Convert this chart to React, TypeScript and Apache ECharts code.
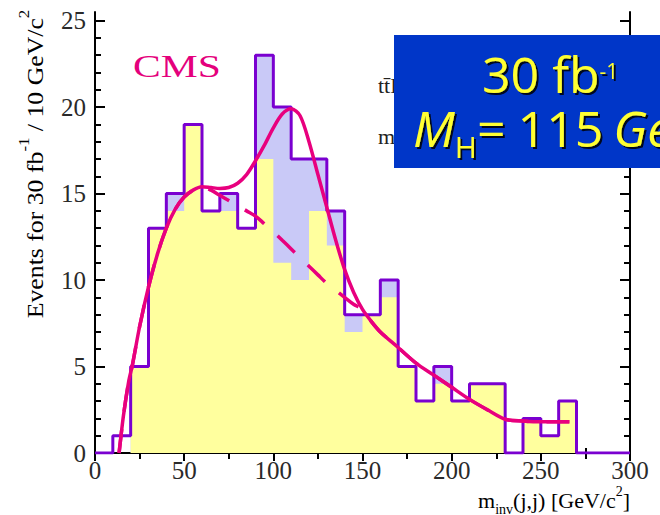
import React, { useEffect, useRef } from "react";
import * as echarts from "echarts";

// Histogram bins (lower edges, GeV/c^2), width 10
const binLow = [0, 10, 20, 30, 40, 50, 60, 70, 80, 90, 100, 110, 120, 130, 140, 150, 160, 170, 180, 190, 200, 210, 220, 230, 240, 250, 260, 270, 280, 290];
const binTop = 300;
// pseudo-data total (purple outline)
const totalCounts = [0, 1, 5, 13, 15, 19, 14, 15, 13, 23, 20, 17, 17, 14, 8, 8, 10, 5, 3, 5, 3, 4, 4, 0, 2, 1, 3, 0, 0, 0];
// signal + background (lavender)
const sigBgCounts = [0, 0, 5, 13, 15, 19, 14, 15, 13, 23, 20, 17, 17, 14, 8, 8, 10, 5, 3, 5, 3, 4, 4, 0, 2, 1, 3, 0, 0, 0];
// background only (yellow)
const bgCounts = [0, 0, 5, 13, 14, 19, 14, 14, 13, 17, 11, 10, 14, 12, 7, 8, 9, 5, 3, 4, 3, 4, 4, 0, 2, 1, 3, 0, 0, 0];

// Fit: signal + background (solid)
const fitX = [13.5, 16, 19, 21, 25, 30, 35, 40, 45, 50, 55, 60, 65, 70, 75, 80, 85, 90, 95, 100, 105, 110, 115, 120, 125, 130, 135, 140, 145, 150, 155, 160, 170, 180, 190, 200, 210, 220, 230, 240, 250, 260, 266];
const fitY = [0, 2.2, 4.2, 5.1, 7.3, 9.6, 11.5, 13.0, 14.1, 14.8, 15.2, 15.4, 15.35, 15.3, 15.35, 15.6, 16.1, 16.9, 17.8, 18.8, 19.6, 19.9, 19.5, 18.0, 16.1, 14.2, 12.3, 10.6, 9.3, 8.3, 7.6, 7.0, 6.1, 5.2, 4.5, 3.8, 3.1, 2.5, 1.95, 1.85, 1.8, 1.8, 1.8];
// Fit: background only (dashed)
const bgFitX = [13.5, 16, 19, 21, 25, 30, 35, 40, 45, 50, 55, 60, 65, 70, 75, 80, 85, 90, 95, 100, 105, 110, 115, 120, 125, 130, 135, 140, 145, 150, 155, 160, 170, 180, 190, 200, 210, 220, 230, 240, 250, 260, 266];
const bgFitY = [0, 2.2, 4.2, 5.1, 7.3, 9.6, 11.5, 13.0, 14.1, 14.8, 15.2, 15.4, 15.2, 14.9, 14.6, 14.3, 14.0, 13.7, 13.25, 12.8, 12.3, 11.8, 11.3, 10.8, 10.3, 9.8, 9.4, 9.0, 8.6, 8.3, 7.6, 7.0, 6.1, 5.2, 4.5, 3.8, 3.1, 2.5, 1.95, 1.85, 1.8, 1.8, 1.8];

const xMajorTicks = [0, 50, 100, 150, 200, 250, 300];
const yMajorTicks = [0, 5, 10, 15, 20, 25];
const yMinorTicks = [0, 1, 2, 3, 4, 5, 6, 7, 8, 9, 10, 11, 12, 13, 14, 15, 16, 17, 18, 19, 20, 21, 22, 23, 24, 25];

const SERIF = "'Liberation Serif', 'DejaVu Serif', serif";
const CARTOON = "'Open Sans', 'DejaVu Sans', sans-serif";

function stepData(counts: number[]) {
  const d: number[][] = counts.map((c, i) => [binLow[i], c]);
  d.push([binTop, counts[counts.length - 1]]);
  return d;
}
function zip(xs: number[], ys: number[]) {
  return xs.map((x, i) => [x, ys[i]]);
}

export default function App() {
  const ref = useRef<HTMLDivElement>(null);
  useEffect(() => {
    if (!ref.current) return;
    const chart = echarts.init(ref.current, undefined, { renderer: "svg" });
    const yBase = {
      type: "value",
      min: 0,
      max: 25.5,
      splitLine: { show: false },
    };
    const yl = {
      fontFamily: CARTOON,
      fill: "#ffff30",
      textShadowColor: "rgba(0,0,0,0.85)",
      textShadowOffsetX: 2,
      textShadowOffsetY: 2,
      textShadowBlur: 1,
    };
    chart.setOption({
      animation: false,
      backgroundColor: "#ffffff",
      grid: { left: 95, right: 30, top: 12, bottom: 62, containLabel: false },
      xAxis: [
        {
          type: "value",
          min: 0,
          max: 300,
          interval: 50,
          position: "bottom",
          axisLine: { show: true, lineStyle: { color: "#000", width: 2 } },
          axisTick: { show: true, inside: true, length: 9, lineStyle: { color: "#000", width: 2 } },
          minorTick: { show: true, splitNumber: 2, length: 5, lineStyle: { color: "#000", width: 2 } },
          axisLabel: {
            show: true,
            margin: 5,
            fontFamily: SERIF,
            fontSize: 25,
            color: "#2a2a2a",
            customValues: xMajorTicks,
          },
          splitLine: { show: false },
        },
        {
          type: "value",
          min: 0,
          max: 300,
          interval: 50,
          position: "top",
          axisLine: { show: true, lineStyle: { color: "#000", width: 2 } },
          axisTick: { show: true, inside: true, length: 8, lineStyle: { color: "#000", width: 2 } },
          minorTick: { show: true, splitNumber: 2, length: 6, lineStyle: { color: "#000", width: 2 } },
          axisLabel: { show: false },
          splitLine: { show: false },
        },
      ],
      yAxis: [
        {
          ...yBase,
          interval: 5,
          position: "left",
          axisLine: { show: true, lineStyle: { color: "#000", width: 2 } },
          axisTick: { show: true, inside: true, length: 10, customValues: yMajorTicks, lineStyle: { color: "#000", width: 2 } },
          axisLabel: {
            show: true,
            margin: 9,
            fontFamily: SERIF,
            fontSize: 25,
            color: "#2a2a2a",
            customValues: yMajorTicks,
            formatter: (v: number) => (v % 5 === 0 ? String(v) : ""),
          },
        },
        {
          ...yBase,
          interval: 1,
          position: "left",
          axisLine: { show: false },
          axisTick: { show: true, inside: true, length: 6, customValues: yMinorTicks, lineStyle: { color: "#000", width: 2 } },
          axisLabel: { show: false },
        },
        {
          ...yBase,
          interval: 5,
          position: "right",
          axisLine: { show: true, lineStyle: { color: "#000", width: 2 } },
          axisTick: { show: true, inside: true, length: 10, customValues: yMajorTicks, lineStyle: { color: "#000", width: 2 } },
          axisLabel: { show: false },
        },
        {
          ...yBase,
          interval: 1,
          position: "right",
          axisLine: { show: false },
          axisTick: { show: true, inside: true, length: 6, customValues: yMinorTicks, lineStyle: { color: "#000", width: 2 } },
          axisLabel: { show: false },
        },
      ],
      series: [
        {
          name: "signal+background",
          type: "line",
          step: "end",
          data: stepData(sigBgCounts),
          symbol: "none",
          lineStyle: { width: 0, opacity: 0 },
          areaStyle: { color: "#c9c9f7", opacity: 1 },
          z: 2,
        },
        {
          name: "background",
          type: "line",
          step: "end",
          data: stepData(bgCounts),
          symbol: "none",
          lineStyle: { width: 0, opacity: 0 },
          areaStyle: { color: "#ffff9e", opacity: 1 },
          z: 3,
        },
        {
          name: "pseudo-data",
          type: "line",
          step: "end",
          data: stepData(totalCounts),
          symbol: "none",
          lineStyle: { color: "#7a00d0", width: 3 },
          z: 4,
        },
        {
          name: "background fit",
          type: "line",
          data: zip(bgFitX, bgFitY),
          symbol: "none",
          smooth: 0.3,
          lineStyle: { color: "#e8007e", width: 3.5, type: [24, 18] },
          z: 5,
        },
        {
          name: "signal+background fit",
          type: "line",
          data: zip(fitX, fitY),
          symbol: "none",
          smooth: 0.3,
          lineStyle: { color: "#e8007e", width: 3.5 },
          z: 6,
        },
      ],
      graphic: [
        {
          type: "text",
          x: 31,
          y: 164,
          rotation: Math.PI / 2,
          scaleX: 1.12,
          style: {
            x: 0,
            y: 0,
            text: "{a|Events for 30 fb}{s|-1}{a| / 10 GeV/c}{s|2}",
            align: "center",
            verticalAlign: "middle",
            textAlign: "center",
            textVerticalAlign: "middle",
            rich: {
              a: { fontFamily: SERIF, fontSize: 23, color: "#4a4a4a", lineHeight: 30, verticalAlign: "bottom" },
              s: { fontFamily: SERIF, fontSize: 15, color: "#4a4a4a", lineHeight: 15, verticalAlign: "top" },
            },
          },
          z: 50,
        },
        {
          type: "text",
          x: 630,
          y: 500,
          style: {
            x: 0,
            y: 0,
            text: "{a|m}{b|inv}{a|(j,j) [GeV/c}{s|2}{a|]}",
            align: "right",
            verticalAlign: "middle",
            textAlign: "right",
            textVerticalAlign: "middle",
            rich: {
              a: { fontFamily: SERIF, fontSize: 22, color: "#222", lineHeight: 32, verticalAlign: "middle" },
              b: { fontFamily: SERIF, fontSize: 14, color: "#222", lineHeight: 14, verticalAlign: "bottom" },
              s: { fontFamily: SERIF, fontSize: 14, color: "#222", lineHeight: 14, verticalAlign: "top" },
            },
          },
          z: 50,
        },
        {
          type: "text",
          x: 133,
          y: 66,
          scaleX: 1.3,
          style: {
            x: 0,
            y: 0,
            text: "CMS",
            fontFamily: SERIF,
            fontSize: 32,
            fill: "#e4007c",
            align: "left",
            verticalAlign: "middle",
            textAlign: "left",
            textVerticalAlign: "middle",
          },
          z: 50,
        },
        {
          type: "text",
          x: 378,
          y: 60,
          style: {
            x: 0,
            y: 0,
            text: "tt\u0304H, H\u2192bb\u0304\nm",
            fontFamily: SERIF,
            fontSize: 22,
            lineHeight: 51,
            fill: "#222",
            align: "left",
            verticalAlign: "top",
            textAlign: "left",
            textVerticalAlign: "top",
          },
          z: 50,
        },
        {
          type: "rect",
          shape: { x: 394, y: 35, width: 280, height: 133 },
          style: { fill: "#0036c8" },
          z: 100,
        },
        {
          type: "text",
          x: 413,
          y: 45,
          style: {
            x: 0,
            y: 0,
            text: "{p|}{a|30 fb}{s|-1}\n{m|M}{h|H}{e|=}{q|}{a2|115}{r|}{g|GeV/c\u00b2}",
            align: "left",
            verticalAlign: "top",
            textAlign: "left",
            textVerticalAlign: "top",
            rich: {
              p: { width: 69, lineHeight: 58, fontSize: 10 },
              a: { ...yl, fontSize: 50, lineHeight: 58, verticalAlign: "middle" },
              s: { ...yl, fontSize: 21, lineHeight: 21, padding: [15, 0, 0, 0], verticalAlign: "top" },
              m: { ...yl, fontSize: 50, fontStyle: "italic", lineHeight: 58, verticalAlign: "top" },
              h: { ...yl, fontSize: 30, lineHeight: 40, verticalAlign: "bottom" },
              e: { ...yl, fontSize: 50, lineHeight: 58, verticalAlign: "top" },
              q: { width: 12, lineHeight: 58, fontSize: 10, verticalAlign: "top" },
              r: { width: 10, lineHeight: 58, fontSize: 10, verticalAlign: "top" },
              a2: { ...yl, fontSize: 50, lineHeight: 58, verticalAlign: "top" },
              g: { ...yl, fontSize: 50, fontStyle: "italic", lineHeight: 58, verticalAlign: "top" },
            },
          },
          z: 101,
        },
      ],
    });
    return () => chart.dispose();
  }, []);
  return (
    <div
      ref={ref}
      style={{ position: "fixed", left: 0, top: 0, width: 660, height: 515, background: "#fff" }}
    />
  );
}
